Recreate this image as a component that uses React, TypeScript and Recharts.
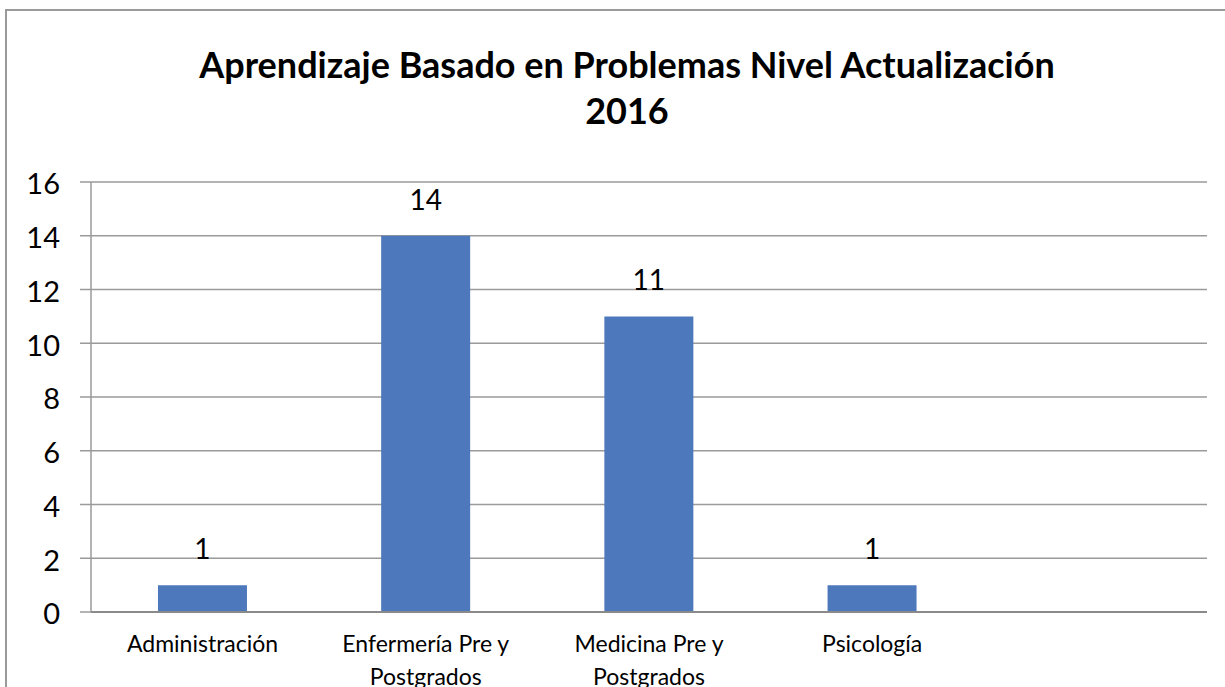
import { Bar, BarChart, CartesianGrid, LabelList, XAxis, YAxis } from 'recharts';

const categories = [
  'Administración',
  'Enfermería Pre y Postgrados',
  'Medicina Pre y Postgrados',
  'Psicología',
  '',
];
const values = [1, 14, 11, 1, null];
const yTicks = [0, 2, 4, 6, 8, 10, 12, 14, 16];

const data = categories.map((name, i) => ({ name, value: values[i] }));

const FONT = 'Lato, "Open Sans", sans-serif';

// Excel-style wrapping: break the long labels onto two lines
const wrap = (label: string) => {
  const parts = label.split(' ');
  if (parts.length <= 2) return [label];
  const first = parts.slice(0, parts.length - 1).join(' ');
  return [first, parts[parts.length - 1]];
};

const CategoryTick = ({ x, y, payload }: any) => {
  const lines = wrap(payload.value);
  return (
    <text x={x} y={y} textAnchor="middle" fill="#000" fontSize={23} fontFamily={FONT}>
      {lines.map((l, i) => (
        <tspan key={i} x={x} dy={i === 0 ? 32 : 33}>
          {l}
        </tspan>
      ))}
    </text>
  );
};

const App = () => {
  return (
    <div style={{ position: 'absolute', left: 0, top: 0, width: 1225, height: 687, overflow: 'hidden', background: '#fff' }}>
      <div
        style={{
          position: 'absolute',
          left: 5,
          top: 9,
          width: 1240,
          height: 700,
          borderTop: '2px solid #9a9a9a',
          borderLeft: '2px solid #9a9a9a',
        }}
      />
      <div
        style={{
          position: 'absolute',
          left: 0,
          width: 1254,
          top: 41,
          textAlign: 'center',
          fontFamily: FONT,
          fontWeight: 700,
          fontSize: 36,
          lineHeight: '46px',
          color: '#000',
        }}
      >
        Aprendizaje Basado en Problemas Nivel Actualización
        <br />
        2016
      </div>
      <div style={{ position: 'absolute', left: 0, top: 0 }}>
        <BarChart
          width={1225}
          height={720}
          data={data}
          margin={{ top: 182, right: 18, left: 11, bottom: 0 }}
          barCategoryGap="30%"
        >
          <CartesianGrid vertical={false} stroke="#9a9a9a" strokeWidth={1.5} />
          <XAxis
            dataKey="name"
            interval={0}
            height={108}
            tick={<CategoryTick />}
            tickLine={false}
            axisLine={{ stroke: '#8a8a8a', strokeWidth: 2 }}
          />
          <YAxis
            width={80}
            domain={[0, 16]}
            ticks={yTicks}
            interval={0}
            tickSize={11}
            tickMargin={20}
            tickLine={{ stroke: '#9a9a9a', strokeWidth: 1.5 }}
            axisLine={{ stroke: '#9a9a9a', strokeWidth: 1.5 }}
            tick={{ fill: '#000', fontSize: 29, fontFamily: FONT, dy: 2 }}
          />
          <Bar dataKey="value" fill="#4E78BC" isAnimationActive={false}>
            <LabelList
              dataKey="value"
              position="top"
              offset={26}
              fill="#000"
              fontSize={28}
              fontFamily={FONT}
            />
          </Bar>
        </BarChart>
      </div>
    </div>
  );
};

export default App;
